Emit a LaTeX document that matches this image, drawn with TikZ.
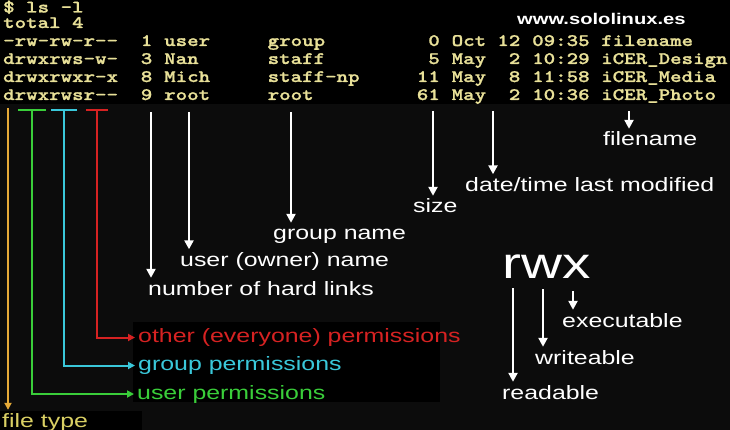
\documentclass[tikz,border=0pt]{standalone}
\usepackage{fontspec}
\newfontfamily\termfont[Extension=.otf, Ligatures=TeXOff, FakeStretch=1.25, FakeBold=1.2]{lmmonolt10-bold}
\newfontfamily\lblfont[FakeStretch=1.29]{Liberation Sans}
\newfontfamily\wwwfont[FakeStretch=1.3]{Liberation Sans}
\usetikzlibrary{arrows.meta}

\definecolor{termgelb}{RGB}{232,224,152}
\definecolor{hgrund}{RGB}{12,12,12}
\definecolor{typgelb}{RGB}{230,170,56}
\definecolor{typtext}{RGB}{218,208,100}
\definecolor{permgruen}{RGB}{58,206,58}
\definecolor{permcyan}{RGB}{58,200,218}
\definecolor{permrot}{RGB}{214,34,34}

\begin{document}
\begin{tikzpicture}[x=1pt, y=-1pt,
	term/.style={anchor=base west, inner sep=0pt, text=termgelb, font={\termfont\fontsize{17.5}{18}\selectfont}},
	termr/.style={term, anchor=base east},
	lbl/.style={anchor=base west, inner sep=3pt, text height=14pt, text depth=4pt, text=white, font={\lblfont\fontsize{19.3}{20}\selectfont}},
	pfeil/.style={white, line width=2.6pt, -{Triangle[width=9pt,length=9pt]}},
	permpfeil/.style={line width=2pt, -{Triangle[width=7pt,length=7pt]}},
	balken/.style={line width=2pt}
]
	\useasboundingbox (0,0) rectangle (730,430);
	\fill[hgrund] (0,0) rectangle (730,430); % Hintergrund
	\fill[black] (0,0) rectangle (730,104); % Terminal
	\fill[black] (133,322) rectangle (440,402);
	\fill[black] (0,411) rectangle (142,430);
	
	% Ausgabe von ls -l
	\node[term] (zeile0) at (3,12.5) {\$ ls -l};
	\node[term] (zeile1) at (3,28) {total 4};
	\foreach \y/\rechte/\anz/\usr/\grp/\gr/\mon/\tag/\zeit/\datei [count=\i] in {
		46/-rw-rw-r--/1/user/group/0/Oct/12/09:35/filename,
		64/drwxrws-w-/3/Nan/staff/5/May/2/10:29/iCER\_Design,
		82/drwxrwxr-x/8/Mich/staff-np/11/May/8/11:58/iCER\_Media,
		100/drwxrwsr--/9/root/root/61/May/2/10:36/iCER\_Photo}{
		\node[term] (rechte\i) at (3,\y) {\rechte};
		\node[termr] (anz\i) at (152.5,\y) {\anz};
		\node[term] (usr\i) at (164,\y) {\usr};
		\node[term] (grp\i) at (267.5,\y) {\grp};
		\node[termr] (gr\i) at (440,\y) {\gr};
		\node[term] (mon\i) at (451.5,\y) {\mon};
		\node[termr] (tag\i) at (520.5,\y) {\tag};
		\node[term] (zeit\i) at (532,\y) {\zeit};
		\node[term] (datei\i) at (601,\y) {\datei};
	}
	\node[anchor=base west, inner sep=0pt, text=white, font={\wwwfont\bfseries\fontsize{15.5}{16}\selectfont}] (web) at (517,25) {www.sololinux.es};
	
	% Beschriftungen
	\node[lbl] (fname) at (600,146) {filename};
	\node[lbl] (datum) at (462,191.5) {date/time last modified};
	\node[lbl] (groesse) at (410,213) {size};
	\node[lbl] (gname) at (270,240) {group name};
	\node[lbl] (uname) at (177,266.5) {user (owner) name};
	\node[lbl] (links) at (145,295) {number of hard links};
	\node[lbl, text=permrot] (andere) at (135,342.5) {other (everyone) permissions};
	\node[lbl, text=permcyan] (gruppe) at (135,370.5) {group permissions};
	\node[lbl, text=permgruen] (besitzer) at (134,399) {user permissions};
	\node[lbl, text=typtext] (typ) at (-1,427) {file type};
	
	\node[anchor=base west, inner sep=3pt, text=white, font={\lblfont\fontsize{44}{46}\selectfont}] (rwx) at (499,278) {rwx};
	\node[lbl] (ausf) at (559,327) {executable};
	\node[lbl] (schreib) at (532,364) {writeable};
	\node[lbl] (les) at (499,399) {readable};
	
	% Startpunkte der Pfeile
	\coordinate (c-typ) at (8,108);
	\coordinate (c-usr) at (32,110);
	\coordinate (c-grp) at (64,110);
	\coordinate (c-oth) at (97,110);
	\coordinate (c-links) at (151,112);
	\coordinate (c-uname) at (189,112);
	\coordinate (c-gname) at (291,112);
	\coordinate (c-size) at (433,111);
	\coordinate (c-datum) at (493,111);
	\coordinate (c-fname) at (629,111);
	\coordinate (c-r) at (513,288);
	\coordinate (c-w) at (543,289);
	\coordinate (c-x) at (573,291);
	
	% Rechte (farbig)
	\draw[permpfeil, typgelb] (c-typ) -- (c-typ |- typ.north);
	\draw[balken, permgruen] (18,110) -- (46,110);
	\draw[permpfeil, permgruen] (c-usr) |- (besitzer.west);
	\draw[balken, permcyan] (51,110) -- (77,110);
	\draw[permpfeil, permcyan] (c-grp) |- (gruppe.west);
	\draw[balken, permrot] (86,110) -- (108,110);
	\draw[permpfeil, permrot] (c-oth) |- (andere.west);
	
	% weisse Pfeile
	\draw[pfeil] (c-links) -- (c-links |- links.north);
	\draw[pfeil] (c-uname) -- (c-uname |- uname.north);
	\draw[pfeil] (c-gname) -- (c-gname |- gname.north);
	\draw[pfeil] (c-size) -- (c-size |- groesse.north);
	\draw[pfeil] (c-datum) -- (c-datum |- datum.north);
	\draw[pfeil] (c-fname) -- (c-fname |- fname.north);
	\draw[pfeil] (c-r) -- (c-r |- les.north);
	\draw[pfeil] (c-w) -- (c-w |- schreib.north);
	\draw[pfeil] (c-x) -- (c-x |- ausf.north);
	
	%\draw[help lines, step=10] (0,0) grid (730,430);
\end{tikzpicture}
\end{document}
